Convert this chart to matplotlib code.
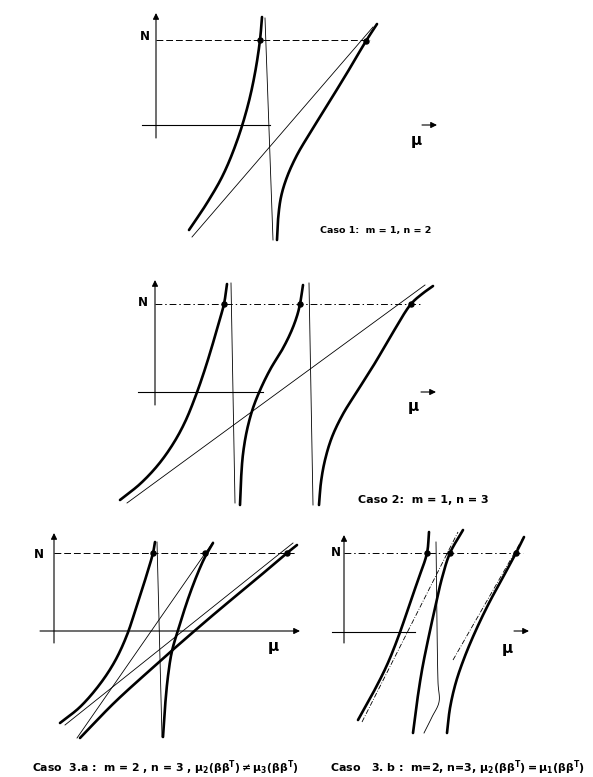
import numpy as np
import matplotlib
matplotlib.use("Agg")
import matplotlib.pyplot as plt

plt.rcParams["mathtext.default"] = "regular"

W, H = 593, 777
THICK = 1.9
THIN = 0.6

# ---------------------------------------------------------------------------
# Curve samples, (mu, N) in panel units, origin at the axes crossing
# ---------------------------------------------------------------------------
# Caso 1: m = 1, n = 2
c1_left = np.array([(33, -105), (51, -78), (67, -50), (81, -16), (92, 20),
                    (99, 52), (104, 85), (106, 108)])
c1_right = np.array([(121, -115), (122, -95), (125, -72), (131, -52), (141, -30),
                     (154, -8), (172, 21), (191, 52), (210, 84), (221, 101)])
c1_asym = np.array([(109, 107), (117, -115)])
c1_line = np.array([(36, -112), (217, 98)])
c1_dots = np.array([(104, 85), (210, 84)])
c1_level = 85

# Caso 2: m = 1, n = 3
c2_left = np.array([(-35, -108), (-15, -92), (3, -73), (18, -52), (30, -30),
                    (41, -3), (50, 23), (58, 49), (64, 70), (69, 88), (72, 108)])
c2_mid = np.array([(85, -113), (86, -88), (88, -62), (92, -38), (98, -16),
                   (106, 4), (116, 24), (127, 42), (136, 60), (142, 76),
                   (145, 88), (148, 107)])
c2_right = np.array([(164, -113), (166, -90), (170, -68), (177, -45), (188, -22),
                     (203, 2), (220, 29), (237, 58), (256, 88), (267, 98),
                     (278, 106)])
c2_asym1 = np.array([(76, 109), (80, -111)])
c2_asym2 = np.array([(154, 109), (158, -113)])
c2_line = np.array([(-28, -111), (270, 107)])
c2_dots = np.array([(69, 88), (145, 88), (256, 88)])
c2_level = 88

# Caso 3.a: m = 2, n = 3, mu2 != mu3
c3a_left = np.array([(6, -92), (26, -76), (46, -53), (61, -30), (73, -4),
                     (83, 26), (92, 54), (99, 78), (101, 89)])
c3a_mid = np.array([(109, -106), (111, -76), (114, -45), (118, -20), (125, 4),
                    (134, 32), (143, 56), (151, 74), (159, 88)])
c3a_right = np.array([(26, -107), (60, -72), (95, -40), (130, -9), (165, 21),
                      (200, 50), (233, 78), (243, 86)])
c3a_asym = np.array([(103, 89), (108, -106)])
c3a_line1 = np.array([(23, -107), (159, 89)])
c3a_line2 = np.array([(11, -94), (239, 88)])
c3a_dots = np.array([(99, 78), (151, 78), (233, 78)])
c3a_level = 78

# Caso 3.b: m = 2, n = 3, mu2 = mu1
c3b_left = np.array([(14, -88), (29, -61), (43, -33), (55, -3), (65, 26),
                     (74, 52), (83, 79), (85, 100)])
c3b_mid = np.array([(69, -101), (73, -70), (78, -38), (84, -8), (91, 24),
                    (98, 54), (106, 79), (119, 102)])
c3b_right = np.array([(103, -101), (106, -76), (112, -50), (121, -24), (132, 2),
                      (145, 29), (158, 53), (172, 79), (180, 95)])
c3b_asym = np.array([(92, 90), (94, -50), (95, -70), (88, -85), (80, -101)])
c3b_line1 = np.array([(18, -90), (114, 100)])
c3b_line2 = np.array([(109, -28), (179, 94)])
c3b_dots = np.array([(83, 79), (106, 79), (172, 79)])
c3b_level = 79

captions = [
    "Caso 1:  m = 1, n = 2",
    "Caso 2:  m = 1, n = 3",
    r"Caso  3.a :  m = 2 , n = 3 , $\mu_2(\beta\beta^T)\neq\mu_3(\beta\beta^T)$",
    r"Caso   3. b :  m=2, n=3, $\mu_2(\beta\beta^T) = \mu_1(\beta\beta^T)$",
]


def smooth(pts, n=24):
    """Centripetal Catmull-Rom path through the given samples."""
    p = np.vstack([2 * pts[0] - pts[1], pts, 2 * pts[-1] - pts[-2]]).astype(float)
    out = []
    for i in range(1, len(p) - 2):
        P0, P1, P2, P3 = p[i - 1], p[i], p[i + 1], p[i + 2]
        t0 = 0.0
        t1 = t0 + np.linalg.norm(P1 - P0) ** 0.5
        t2 = t1 + np.linalg.norm(P2 - P1) ** 0.5
        t3 = t2 + np.linalg.norm(P3 - P2) ** 0.5
        t = np.linspace(t1, t2, n, endpoint=False)[:, None]
        A1 = (t1 - t) / (t1 - t0) * P0 + (t - t0) / (t1 - t0) * P1
        A2 = (t2 - t) / (t2 - t1) * P1 + (t - t1) / (t2 - t1) * P2
        A3 = (t3 - t) / (t3 - t2) * P2 + (t - t2) / (t3 - t2) * P3
        B1 = (t2 - t) / (t2 - t0) * A1 + (t - t0) / (t2 - t0) * A2
        B2 = (t3 - t) / (t3 - t1) * A2 + (t - t1) / (t3 - t1) * A3
        out.append((t2 - t) / (t2 - t1) * B1 + (t - t1) / (t2 - t1) * B2)
    out.append(pts[-1:].astype(float))
    return np.vstack(out)


fig = plt.figure(figsize=(W / 100, H / 100), dpi=100)
fig.patch.set_facecolor("white")


def panel(ox, oy, x0, x1, y0, y1):
    ax = fig.add_axes([x0 / W, 1 - y1 / H, (x1 - x0) / W, (y1 - y0) / H])
    ax.set_xlim(x0 - ox, x1 - ox)
    ax.set_ylim(oy - y1, oy - y0)
    ax.axis("off")
    return ax


ARROW = dict(arrowstyle="-|>", lw=0.8, color="black", mutation_scale=9,
             shrinkA=0, shrinkB=0)


def axes_frame(ax, ntop, nbot, hx0, hx1, level, lx1, nlab, mulab, muarrow=None,
               harrow=False, level_ls=(0, (7, 3))):
    ax.annotate("", xy=(0, ntop), xytext=(0, nbot), arrowprops=ARROW)
    if harrow:
        ax.annotate("", xy=(hx1, 0), xytext=(hx0, 0), arrowprops=ARROW)
    else:
        ax.plot([hx0, hx1], [0, 0], color="black", lw=0.8)
    if muarrow is not None:
        ax.annotate("", xy=(muarrow[1], muarrow[2]),
                    xytext=(muarrow[0], muarrow[2]), arrowprops=ARROW)
    ax.plot([0, lx1], [level, level], color="black", lw=0.7, linestyle=level_ls)
    ax.text(nlab[0], nlab[1], "N", fontsize=8.5, fontweight="bold",
            ha="center", va="center")
    ax.text(mulab[0], mulab[1], "μ", fontsize=11, fontweight="bold",
            ha="center", va="center")


def thick(ax, pts):
    s = smooth(pts)
    ax.plot(s[:, 0], s[:, 1], color="black", lw=THICK, solid_capstyle="round")


def thin(ax, pts, ls="-"):
    ax.plot(pts[:, 0], pts[:, 1], color="black", lw=THIN, linestyle=ls)


def dots(ax, pts):
    ax.plot(pts[:, 0], pts[:, 1], "o", color="black", ms=3.6)


cap_kw = dict(fontweight="bold", ha="left", va="center", clip_on=False)
DASHDOT = (0, (7, 3, 1.5, 3))

# ---- Caso 1 ----
ax1 = panel(156, 125, 110, 450, 0, 250)
axes_frame(ax1, 112, -13, -14, 114, c1_level, 214, (-11, 88), (260, -16),
           muarrow=(266, 281, 0))
thin(ax1, c1_asym)
thin(ax1, c1_line)
thick(ax1, c1_left)
thick(ax1, c1_right)
dots(ax1, c1_dots)
ax1.text(164, -105, captions[0], fontsize=6.8, **cap_kw)

# ---- Caso 2 ----
ax2 = panel(155, 392, 100, 520, 255, 515)
axes_frame(ax2, 112, -13, -17, 108, c2_level, 265, (-12, 89), (258, -15),
           muarrow=(266, 281, 0), level_ls=DASHDOT)
thin(ax2, c2_asym1)
thin(ax2, c2_asym2)
thin(ax2, c2_line)
thick(ax2, c2_left)
thick(ax2, c2_mid)
thick(ax2, c2_right)
dots(ax2, c2_dots)
ax2.text(203, -108, captions[1], fontsize=8, **cap_kw)

# ---- Caso 3.a ----
ax3 = panel(54, 631, 0, 310, 520, 777)
axes_frame(ax3, 98, -12, -14, 246, c3a_level, 241, (-15, 76), (219, -16),
           harrow=True)
thin(ax3, c3a_asym)
thin(ax3, c3a_line1)
thin(ax3, c3a_line2)
thick(ax3, c3a_left)
thick(ax3, c3a_mid)
thick(ax3, c3a_right)
dots(ax3, c3a_dots)
ax3.text(-22, -137, captions[2], fontsize=7.8, **cap_kw)

# ---- Caso 3.b ----
ax4 = panel(344, 632, 310, 593, 520, 777)
axes_frame(ax4, 97, -11, -12, 71, c3b_level, 179, (-8, 79), (163, -16),
           muarrow=(170, 185, 1), level_ls=DASHDOT)
s = smooth(c3b_asym)
ax4.plot(s[:, 0], s[:, 1], color="black", lw=THIN)
thin(ax4, c3b_line1, ls=(0, (6, 2, 1, 2)))
thin(ax4, c3b_line2, ls=(0, (6, 2, 1, 2)))
thick(ax4, c3b_left)
thick(ax4, c3b_mid)
thick(ax4, c3b_right)
dots(ax4, c3b_dots)
ax4.text(-14, -136, captions[3], fontsize=7.9, **cap_kw)

fig.savefig("out.png", dpi=100, facecolor="white")
